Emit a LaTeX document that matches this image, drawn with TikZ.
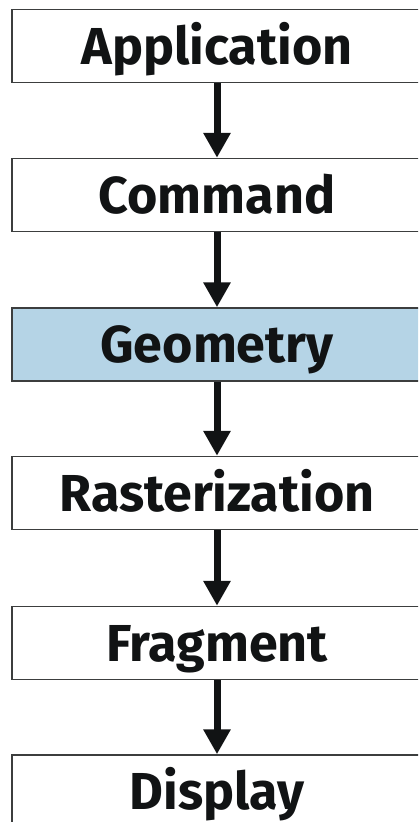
\documentclass[tikz,border=0pt]{standalone}
\usepackage{fontspec}
\setmainfont{Fira Sans}
\usetikzlibrary{arrows.meta}
\definecolor{geo}{RGB}{181,212,230}
\definecolor{ink}{RGB}{17,19,20}
\definecolor{frame}{RGB}{60,62,62}
\tikzset{
  stage/.style={draw=frame, line width=1.5pt, fill=white, minimum width=410pt, minimum height=73pt,
    inner sep=0pt, text height=36pt, text depth=0pt, text=ink,
    font=\fontsize{52pt}{60pt}\selectfont\bfseries},
  flow/.style={draw=ink, line width=7pt, -{Triangle[width=26pt,length=25pt]}}
}
\begin{document}
\begin{tikzpicture}[x=1pt,y=-1pt]
\useasboundingbox (0,0) rectangle (418,822);
\clip (0,0) rectangle (418,822);
\node[stage] (app) at (217,46) {Application};
\node[stage] (cmd) at (217,195) {Command};
\node[stage, fill=geo] (geom) at (217,344.5) {Geometry};
\node[stage] (rast) at (217,493) {Rasterization};
\node[stage] (frag) at (217,643) {Fragment};
\node[stage] (disp) at (217,791.5) {Display};
\draw[flow] (app.south) -- (cmd.north);
\draw[flow] (cmd.south) -- (geom.north);
\draw[flow] (geom.south) -- (rast.north);
\draw[flow] (rast.south) -- (frag.north);
\draw[flow] (frag.south) -- (disp.north);
\end{tikzpicture}
\end{document}
